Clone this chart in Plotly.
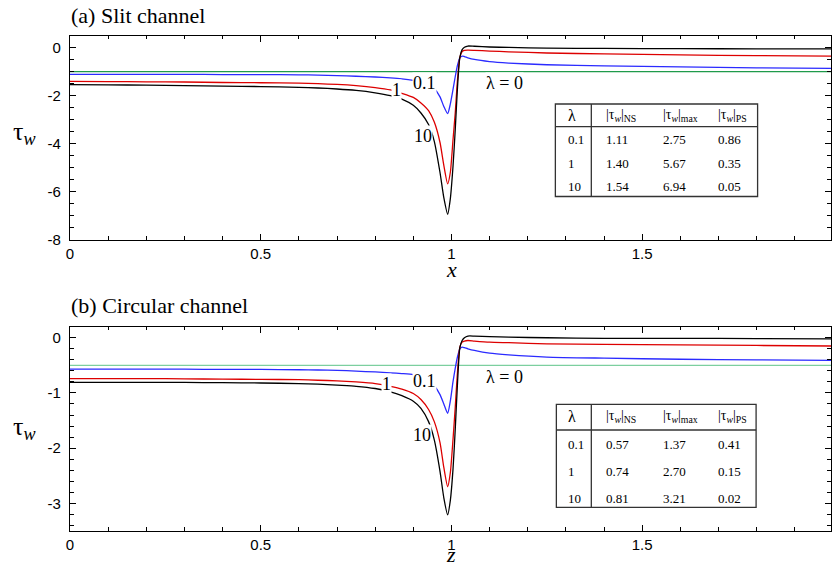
import plotly.graph_objects as go

# ---------------- data ----------------
X_GRID = [0, 0.1, 0.2, 0.3, 0.4, 0.5, 0.6, 0.65, 0.7, 0.75, 0.8, 0.84, 0.87, 0.9,
          0.92, 0.94, 0.955, 0.97, 0.98, 0.99, 0.997, 1.004, 1.01, 1.016, 1.022,
          1.028, 1.034, 1.043, 1.06, 1.1, 1.15, 1.25, 1.4, 1.6, 1.8, 2.0]

# (a) slit channel
SLIT_L10 = [-1.54, -1.55, -1.56, -1.58, -1.60, -1.62, -1.65, -1.68, -1.72, -1.78, -1.88,
            -2.0, -2.14, -2.4, -2.72, -3.2, -3.9, -5.2, -6.25, -6.94, -6.3, -4.96, -3.4,
            -1.6, -0.4, -0.08, 0.02, 0.07, 0.06, 0.03, 0.01, -0.02, -0.03, -0.04, -0.045, -0.05]
SLIT_L1 = [-1.40, -1.41, -1.42, -1.43, -1.45, -1.46, -1.48, -1.50, -1.53, -1.58, -1.66,
           -1.76, -1.9, -2.07, -2.3, -2.62, -3.1, -3.95, -4.9, -5.67, -5.2, -3.85, -2.7,
           -1.3, -0.4, -0.16, -0.11, -0.1, -0.11, -0.14, -0.17, -0.22, -0.26, -0.3, -0.33, -0.35]
SLIT_L01 = [-1.11, -1.11, -1.11, -1.11, -1.12, -1.12, -1.13, -1.14, -1.16, -1.19, -1.22,
            -1.26, -1.3, -1.36, -1.42, -1.55, -1.7, -2.05, -2.45, -2.75, -2.35, -1.75, -1.2,
            -0.72, -0.42, -0.35, -0.37, -0.42, -0.49, -0.58, -0.64, -0.71, -0.76, -0.8, -0.84, -0.86]
SLIT_L0 = -1.0

# (b) circular channel
CIRC_L10 = [-0.81, -0.81, -0.81, -0.81, -0.815, -0.82, -0.83, -0.84, -0.86, -0.88, -0.92,
            -0.98, -1.05, -1.15, -1.28, -1.52, -1.85, -2.42, -2.9, -3.21, -2.95, -2.39, -1.65,
            -0.8, -0.18, -0.05, 0.0, 0.03, 0.03, 0.02, 0.01, 0.0, -0.01, -0.01, -0.015, -0.02]
CIRC_L1 = [-0.74, -0.74, -0.74, -0.745, -0.75, -0.755, -0.76, -0.77, -0.78, -0.8, -0.83,
           -0.88, -0.93, -1.01, -1.12, -1.3, -1.52, -1.9, -2.35, -2.70, -2.45, -1.85, -1.25,
           -0.6, -0.17, -0.08, -0.06, -0.05, -0.06, -0.08, -0.09, -0.11, -0.12, -0.13, -0.14, -0.15]
CIRC_L01 = [-0.57, -0.57, -0.57, -0.57, -0.575, -0.575, -0.58, -0.585, -0.59, -0.605, -0.62,
            -0.635, -0.65, -0.67, -0.71, -0.78, -0.87, -1.03, -1.2, -1.37, -1.15, -0.8, -0.55,
            -0.34, -0.2, -0.17, -0.18, -0.2, -0.23, -0.28, -0.31, -0.35, -0.37, -0.39, -0.40, -0.41]
CIRC_L0 = -0.5

X_TICKS = [0, 0.5, 1, 1.5]
X_TICK_TEXT = ["0", "0.5", "1", "1.5"]
SLIT_Y_TICKS = [0, -2, -4, -6, -8]
SLIT_Y_TEXT = ["0", "-2", "-4", "-6", "-8"]
CIRC_Y_TICKS = [0, -1, -2, -3]
CIRC_Y_TEXT = ["0", "-1", "-2", "-3"]

TABLE_HEADER = ["λ", "|τ<sub><i>w</i></sub>|<sub>NS</sub>",
                "|τ<sub><i>w</i></sub>|<sub>max</sub>", "|τ<sub><i>w</i></sub>|<sub>PS</sub>"]
SLIT_TABLE = [["0.1", "1.11", "2.75", "0.86"],
              ["1", "1.40", "5.67", "0.35"],
              ["10", "1.54", "6.94", "0.05"]]
CIRC_TABLE = [["0.1", "0.57", "1.37", "0.41"],
              ["1", "0.74", "2.70", "0.15"],
              ["10", "0.81", "3.21", "0.02"]]

# ---------------- style ----------------
SERIF = "Liberation Serif, Times New Roman, serif"
SANS = "Liberation Sans, Arial, sans-serif"
C_BLACK = "#000000"
C_RED = "#dd0000"
C_BLUE = "#2b2bff"
C_GREEN_A = "#1f9a4a"
C_GREEN_B = "#7ccf9f"

W, H = 832, 576
L_MARGIN = 70
SY = 576 / 568          # vertical layout factor


def fx(px):
    return (px - L_MARGIN) / (W - L_MARGIN)


def fy(py):
    return 1 - py * SY / H


fig = go.Figure()


def add_curves(xa, ya, y10, y1, y01, y0, green):
    for ys, col in [(y0, green), (y01, C_BLUE), (y1, C_RED), (y10, C_BLACK)]:
        if isinstance(ys, float):
            xs, yv = [0, 2], [ys, ys]
            shape = "linear"
        else:
            xs, yv = X_GRID, ys
            shape = "spline"
        fig.add_trace(go.Scatter(x=xs, y=yv, mode="lines", xaxis=xa, yaxis=ya,
                                 line=dict(color=col, width=1.3, shape=shape, smoothing=0.6),
                                 showlegend=False, hoverinfo="skip"))


add_curves("x", "y", SLIT_L10, SLIT_L1, SLIT_L01, SLIT_L0, C_GREEN_A)
add_curves("x2", "y2", CIRC_L10, CIRC_L1, CIRC_L01, CIRC_L0, C_GREEN_B)

axis_common = dict(showline=True, linecolor="black", linewidth=1.3, mirror="ticks",
                   ticks="inside", ticklen=6, tickwidth=1, tickcolor="black",
                   showgrid=False, zeroline=False,
                   tickfont=dict(family=SANS, size=15, color="black"))

top_dom = [fy(239.7), fy(35.7)]
bot_dom = [fy(530.9), fy(326.7)]

fig.update_layout(
    width=W, height=H, autosize=False,
    margin=dict(l=L_MARGIN, r=0, t=0, b=0),
    paper_bgcolor="white", plot_bgcolor="white",
    xaxis=dict(axis_common, domain=[0, 1], range=[0, 1.995], anchor="y",
               tickvals=X_TICKS, ticktext=X_TICK_TEXT,
               minor=dict(dtick=0.1, ticks="inside", ticklen=3.5, tickcolor="black")),
    yaxis=dict(axis_common, domain=top_dom, range=[-8, 0.5], anchor="x",
               tickvals=SLIT_Y_TICKS, ticktext=SLIT_Y_TEXT, ticklabelstandoff=5,
               minor=dict(dtick=0.5, ticks="inside", ticklen=3.5, tickcolor="black")),
    xaxis2=dict(axis_common, domain=[0, 1], range=[0, 1.995], anchor="y2",
                tickvals=X_TICKS, ticktext=X_TICK_TEXT,
                minor=dict(dtick=0.1, ticks="inside", ticklen=3.5, tickcolor="black")),
    yaxis2=dict(axis_common, domain=bot_dom, range=[-3.5, 0.2], anchor="x2",
                tickvals=CIRC_Y_TICKS, ticktext=CIRC_Y_TEXT, ticklabelstandoff=5,
                minor=dict(dtick=0.2, ticks="inside", ticklen=3.5, tickcolor="black")),
)

ann = []
shapes = []

# panel titles
ann.append(dict(text="(a) Slit channel", x=fx(69), y=fy(16), xref="paper", yref="paper",
                xanchor="left", yanchor="middle", showarrow=False,
                font=dict(family=SERIF, size=22, color="black")))
ann.append(dict(text="(b) Circular channel", x=fx(69), y=fy(305), xref="paper", yref="paper",
                xanchor="left", yanchor="middle", showarrow=False,
                font=dict(family=SERIF, size=22, color="black")))

# axis titles
for yc in (133, 428):
    ann.append(dict(text="τ<sub><i>w</i></sub>", x=fx(24), y=fy(yc), xref="paper", yref="paper",
                    xanchor="center", yanchor="middle", showarrow=False,
                    font=dict(family=SERIF, size=26, color="black")))
ann.append(dict(text="<i>x</i>", x=fx(452), y=fy(270), xref="paper", yref="paper",
                xanchor="center", yanchor="middle", showarrow=False,
                font=dict(family=SERIF, size=22, color="black")))
ann.append(dict(text="<i>z</i>", x=fx(452), y=fy(554), xref="paper", yref="paper",
                xanchor="center", yanchor="middle", showarrow=False,
                font=dict(family=SERIF, size=22, color="black")))

# partially visible "2" tick label at the right edge
for xr, yr in (("x", 249), ("x2", 541)):
    ann.append(dict(text="2", x=2, y=fy(yr), xref=xr, yref="paper", xanchor="center",
                    yanchor="middle", showarrow=False,
                    font=dict(family=SANS, size=15, color="black")))


# curve labels
def curve_labels(xr, yr, pos):
    for txt, (xv, yv) in pos:
        ann.append(dict(text=txt, x=xv, y=yv, xref=xr, yref=yr, xanchor="center",
                        yanchor="middle", showarrow=False, bgcolor="white", borderpad=0,
                        font=dict(family=SERIF, size=18, color="black")))


curve_labels("x", "y", [("0.1", (0.929, -1.48)), ("1", (0.855, -1.76)),
                        ("10", (0.925, -3.68)), ("λ = 0", (1.139, -1.46))])
curve_labels("x2", "y2", [("0.1", (0.929, -0.78)), ("1", (0.831, -0.84)),
                          ("10", (0.922, -1.77)), ("λ = 0", (1.139, -0.72))])


# tables
def add_table(box, hline, vline, header_y, row_ys, col_x, rows):
    x0, y0, x1, y1 = box
    shapes.append(dict(type="rect", xref="paper", yref="paper", x0=fx(x0), x1=fx(x1),
                       y0=fy(y1), y1=fy(y0), line=dict(color="#333", width=1.3),
                       fillcolor="white", layer="above"))
    shapes.append(dict(type="line", xref="paper", yref="paper", x0=fx(x0), x1=fx(x1),
                       y0=fy(hline), y1=fy(hline), line=dict(color="#333", width=1.3)))
    shapes.append(dict(type="line", xref="paper", yref="paper", x0=fx(vline), x1=fx(vline),
                       y0=fy(y1), y1=fy(y0), line=dict(color="#333", width=1.3)))
    for j, h in enumerate(TABLE_HEADER):
        ann.append(dict(text=h, x=fx(col_x[j]), y=fy(header_y), xref="paper", yref="paper",
                        xanchor="left", yanchor="middle", showarrow=False,
                        font=dict(family=SERIF, size=16 if j == 0 else 14, color="black")))
    for i, row in enumerate(rows):
        for j, v in enumerate(row):
            ann.append(dict(text=v, x=fx(col_x[j]), y=fy(row_ys[i]), xref="paper",
                            yref="paper", xanchor="left", yanchor="middle", showarrow=False,
                            font=dict(family=SERIF, size=13, color="black")))


add_table((556, 104, 758.5, 196.5), 126.7, 592, 115.5, [139.5, 163, 186.5],
          [566.5, 605, 661.5, 717], SLIT_TABLE)
add_table((557, 404.3, 757, 507.3), 430, 592, 416.7, [444, 471.7, 498.3],
          [566.5, 605, 661.5, 717], CIRC_TABLE)

fig.update_layout(annotations=ann, shapes=shapes)
# the page body gets no margin, so the figure starts at the window's top-left corner
fig.write_html("out.html", config={"displayModeBar": False},
               post_script="document.body.style.margin='0px';")
